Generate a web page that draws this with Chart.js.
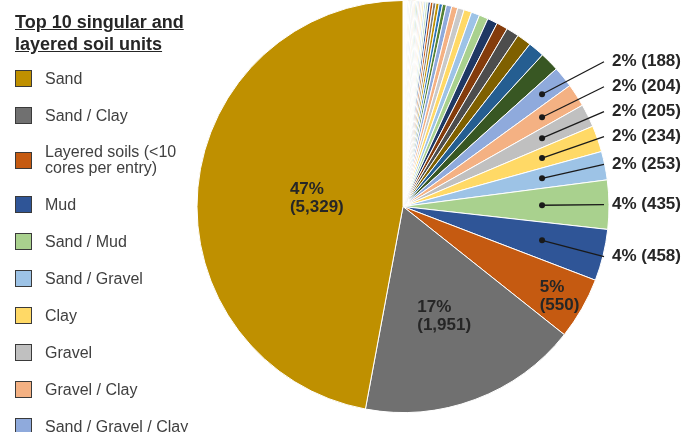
<!DOCTYPE html>
<html>
<head>
<meta charset="utf-8">
<title>Soil units</title>
<script src="https://cdn.jsdelivr.net/npm/chart.js@4.4.1/dist/chart.umd.min.js"></script>
<style>
  html, body { margin: 0; padding: 0; background: #fff; }
  #wrap { position: relative; width: 695px; height: 432px; overflow: hidden; font-family: "Liberation Sans", Arial, sans-serif; }
  #soilChart { position: absolute; left: 0; top: 0; }
  #legend { position: absolute; left: 15px; top: 11px; width: 190px; }
  #legend .title { font-size: 18px; font-weight: bold; line-height: 22px; color: #262626; text-decoration: underline; margin-bottom: 15px; white-space: nowrap; }
  #legend .items { display: flex; flex-direction: column; gap: 20px; }
  #legend .item { display: flex; align-items: center; }
  #legend .box { width: 15px; height: 15px; border: 1px solid #3a3a3a; flex: none; }
  #legend .text { margin-left: 13px; max-width: 150px; font-size: 16px; line-height: 16px; color: #404040; }
</style>
</head>
<body>
<div id="wrap">
  <canvas id="soilChart" width="695" height="432"></canvas>
  <div id="legend"></div>
</div>
<script>
// top ten units, largest first
const soilUnits = [
    'Sand', 'Sand / Clay', 'Layered soils (<10 cores per entry)', 'Mud', 'Sand / Mud',
    'Sand / Gravel', 'Clay', 'Gravel', 'Gravel / Clay', 'Sand / Gravel / Clay'
];
const coreCounts = [5329, 1951, 550, 458, 435, 253, 234, 205, 204, 188];

// the remaining units, not named in the legend
const otherCounts = [
    172, 145, 128, 112, 100, 90,
    80, 74, 68, 58, 54, 48, 34,
    30, 28, 26, 23, 21, 19, 17, 15, 14, 13, 12, 11, 10, 9, 8, 8, 7, 7, 6, 6,
    5, 5, 5, 4, 4, 4, 3, 3, 3, 3, 2, 2, 2, 2, 2, 1, 1, 1, 1, 1, 1, 1, 1, 1, 1
];

const legendTitle = ['Top 10 singular and', 'layered soil units'];

const firstColors = [
    '#BF9000', '#707070', '#C55A11', '#2F5597',
    '#A9D18E', '#9DC3E6', '#FFD966', '#C0C0C0', '#F4B183', '#8FAADC',
    '#385723', '#255E91', '#7F6000', '#4D4D4D', '#843C0C', '#1F3864',
    '#A9D18E', '#9DC3E6', '#FFD966', '#C9C9C9', '#F4B183', '#8FAADC'
];
const cycleColors = [
    '#548235', '#2E75B6', '#BF9000', '#7B7B7B', '#C55A11', '#2F5597',
    '#C5E0B4', '#BDD7EE', '#FFE699', '#DBDBDB', '#F8CBAD', '#B4C7E7',
    '#70AD47', '#5B9BD5', '#FFC000', '#A5A5A5', '#ED7D31', '#4472C4'
];

const allValues = coreCounts.concat(otherCounts);
const allLabels = soilUnits.concat(otherCounts.map((v, i) => 'Unit ' + (i + 11)));
const allColors = allValues.map((v, i) =>
    i < firstColors.length ? firstColors[i] : cycleColors[(i - firstColors.length) % cycleColors.length]);

// legend
let legendEl = document.getElementById('legend');
let html = '<div class="title">' + legendTitle.join('<br>') + '</div><div class="items">';
for (let i = 0; i < soilUnits.length; i++) {
    html += '<div class="item"><span class="box" style="background:' + allColors[i] + '"></span>' +
        '<span class="text">' + soilUnits[i].replace('<', '&lt;') + '</span></div>';
}
legendEl.innerHTML = html + '</div>';

const labelFont = 'bold 17px "Liberation Sans", Arial, sans-serif';

// percentage + count labels, inside for the big slices, with leaders for the rest
const sliceLabels = {
    id: 'sliceLabels',
    afterDatasetsDraw(chart, args, opts) {
        const ctx = chart.ctx;
        const arcs = chart.getDatasetMeta(0).data;
        const values = chart.data.datasets[0].data;
        const total = values.reduce((a, b) => a + b, 0);
        const n = values.length;
        const pct = v => Math.round(v / total * 100) + '%';
        const num = v => '(' + v.toLocaleString('en-US') + ')';
        const arcOf = k => arcs[n - 1 - k];
        const mid = a => (a.startAngle + a.endAngle) / 2;

        ctx.save();
        ctx.font = labelFont;
        ctx.fillStyle = '#262626';
        ctx.strokeStyle = '#1a1a1a';
        ctx.textBaseline = 'middle';
        ctx.textAlign = 'left';

        opts.inside.forEach(([k, f]) => {
            const a = arcOf(k), m = mid(a), v = values[n - 1 - k];
            const px = a.x + Math.cos(m) * a.outerRadius * f;
            const py = a.y + Math.sin(m) * a.outerRadius * f;
            const lines = [pct(v), num(v)];
            const w = Math.max(...lines.map(t => ctx.measureText(t).width));
            ctx.fillText(lines[0], px - w / 2, py - 9);
            ctx.fillText(lines[1], px - w / 2, py + 9);
        });

        // stacked column of labels going up from the second one
        let prevY = null;
        opts.outside.forEach((k, j) => {
            const a = arcOf(k), m = mid(a), v = values[n - 1 - k];
            const R = a.outerRadius;
            let ly = a.y + Math.sin(m) * R * 1.03;
            if (j >= 2) ly = Math.min(ly, prevY - 25);
            prevY = ly;
            const dx = R * 0.675;
            const dotX = a.x + dx, dotY = a.y + Math.tan(m) * dx;
            const textX = a.x + R + 3;
            ctx.lineWidth = 1.3;
            ctx.beginPath();
            ctx.moveTo(dotX, dotY);
            ctx.lineTo(textX - 8, ly);
            ctx.stroke();
            ctx.beginPath();
            ctx.arc(dotX, dotY, 3, 0, Math.PI * 2);
            ctx.fillStyle = '#1a1a1a';
            ctx.fill();
            ctx.fillStyle = '#262626';
            ctx.fillText(pct(v) + ' ' + num(v), textX, ly);
        });
        ctx.restore();
    }
};

// pie runs clockwise from 12 o'clock, so feed it smallest first
new Chart(document.getElementById('soilChart'), {
    type: 'pie',
    data: {
        labels: allLabels.slice().reverse(),
        datasets: [{
            data: allValues.slice().reverse(),
            backgroundColor: allColors.slice().reverse(),
            borderColor: '#ffffff',
            borderWidth: 1
        }]
    },
    options: {
        responsive: false,
        animation: false,
        layout: { padding: { left: 196, right: 85, top: 0, bottom: 19 } },
        plugins: {
            legend: { display: false },
            tooltip: { enabled: false },
            sliceLabels: {
                inside: [[0, 0.42], [1, 0.57], [2, 0.875]],
                outside: [3, 4, 5, 6, 7, 8, 9]
            }
        }
    },
    plugins: [sliceLabels]
});
</script>
</body>
</html>
